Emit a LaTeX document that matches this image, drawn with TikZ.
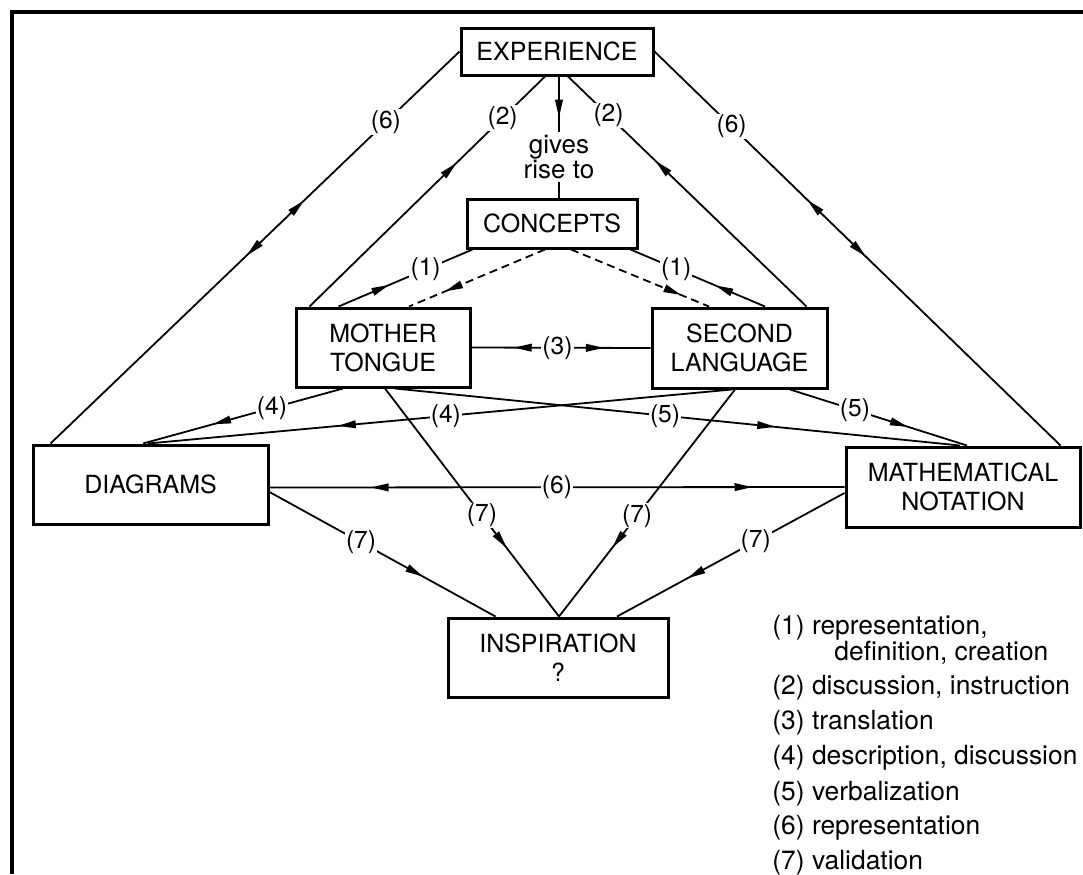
\documentclass[tikz,border=0pt]{standalone}
\usepackage{fontspec}
\setmainfont{TeX Gyre Heros}
\usetikzlibrary{arrows.meta,decorations.markings}
\tikzset{
 box/.style={draw, line width=1.5pt, inner sep=0pt, align=center, font=\fontsize{12.5}{14.5}\selectfont},
 lbl/.style={fill=white, inner sep=0.6pt, font=\fontsize{12.3}{12}\selectfont},
 conn/.style={line width=0.9pt},
 tipA/.tip={Triangle[length=9pt,width=3.8pt]},
 fwd/.style={postaction={decorate,decoration={markings,mark=at position #1 with {\arrow{tipA}}}}},
 bwd/.style={postaction={decorate,decoration={markings,mark=at position #1 with {\arrowreversed{tipA}}}}},
 leg/.style={anchor=base west, inner sep=0pt, font=\fontsize{13.2}{14}\selectfont},
 dsh/.style={dash pattern=on 4pt off 2.5pt},
}
\begin{document}
\begin{tikzpicture}[x=0.5pt,y=-0.5pt]
\useasboundingbox (0,0) rectangle (1083,874);
\draw[line width=2pt] (12,874) -- (12,12) -- (1083,12);

\node[box, minimum width=96pt, minimum height=23.5pt] (exp) at (557,51.5) {EXPERIENCE};
\node[box, minimum width=85pt, minimum height=24.5pt] (con) at (552,223.5) {CONCEPTS};
\node[box, minimum width=87pt, minimum height=39.5pt] (mt) at (383,347.5) {MOTHER\\TONGUE};
\node[box, minimum width=87.5pt, minimum height=40pt] (sl) at (739.5,348) {SECOND\\LANGUAGE};
\node[box, minimum width=117.5pt, minimum height=39.5pt] (dia) at (150.5,484.5) {DIAGRAMS};
\node[box, minimum width=117pt, minimum height=40pt] (mn) at (963,487) {MATHEMATICAL\\NOTATION};
\node[box, minimum width=110pt, minimum height=39.5pt] (ins) at (558,657.5) {INSPIRATION\\?};

% (6) outer
\draw[conn, bwd=0.38, fwd=0.52] (exp.west) -- node[lbl,pos=0.18]{(6)} ([xshift=9.5pt]dia.north west);
\draw[conn, bwd=0.377, fwd=0.52] (exp.east) -- node[lbl,pos=0.19]{(6)} ([xshift=-10.5pt]mn.north east);
% (2)
\draw[conn, fwd=0.624] ([xshift=7.5pt]mt.north west) -- node[lbl,pos=0.82]{(2)} ([xshift=-6pt]exp.south);
\draw[conn, fwd=0.633] ([xshift=-11pt]sl.north east) -- node[lbl,pos=0.83]{(2)} ([xshift=5.5pt]exp.south);
% gives rise to
\draw[conn, fwd=0.34] ([xshift=1pt]exp.south) -- node[fill=white, inner sep=1.5pt, pos=0.665, align=center, font=\fontsize{13}{12.5}\selectfont]{gives\\rise to} ([xshift=3.5pt]con.north);
% (1)
\draw[conn, fwd=0.38] ([xshift=22pt]mt.north west) -- node[lbl,pos=0.65]{(1)} ([xshift=3.5pt]con.south west);
\draw[conn, fwd=0.37] ([xshift=12.75pt]sl.north) -- node[lbl,pos=0.66]{(1)} ([xshift=-4pt]con.south east);
% dashed
\draw[conn, dsh, fwd=0.735] ([xshift=-3.5pt]con.south) -- ([xshift=13pt]mt.north);
\draw[conn, dsh, fwd=0.80] ([xshift=9.5pt]con.south) -- ([xshift=-15.25pt]sl.north);
% (3)
\draw[conn, bwd=0.236, fwd=0.74] (mt.east) -- node[lbl,pos=0.48]{(3)} (sl.west);
% (4)
\draw[conn, fwd=0.65] ([xshift=-20pt]mt.south) -- node[lbl,pos=0.355]{(4)} ([xshift=-3.75pt]dia.north);
\draw[conn, fwd=0.675] ([xshift=-3.75pt]sl.south) -- node[lbl,pos=0.49]{(4)} ([xshift=-1.25pt]dia.north);
% (5)
\draw[conn, fwd=0.673] ([xshift=6pt]mt.south) -- node[lbl,pos=0.478]{(5)} ([xshift=-1.5pt]mn.north);
\draw[conn, fwd=0.667] ([xshift=25.25pt]sl.south) -- node[lbl,pos=0.367]{(5)} ([xshift=2pt]mn.north);
% (6) horizontal
\draw[conn, bwd=0.176, fwd=0.84] ([yshift=-1.5pt]dia.east) -- node[lbl,pos=0.5]{(6)} (mn.west);
% (7)
\draw[conn, fwd=0.68] ([yshift=-3.75pt]dia.east) -- node[lbl,pos=0.405]{(7)} ([xshift=24.5pt]ins.north west);
\draw[conn, fwd=0.70] ([xshift=1pt]mt.south) -- node[lbl,pos=0.557]{(7)} ([xshift=0.5pt]ins.north);
\draw[conn, fwd=0.696] ([xshift=-2.25pt]sl.south) -- node[lbl,pos=0.556]{(7)} ([xshift=0.5pt]ins.north);
\draw[conn, fwd=0.69] ([yshift=-3pt]mn.west) -- node[lbl,pos=0.39]{(7)} ([xshift=29.5pt]ins.north);

% legend
\node[leg] (l1) at (772,634) {(1) representation,};
\node[leg] (l1b) at (834,660) {definition, creation};
\node[leg] (l2) at (772,694) {(2) discussion, instruction};
\node[leg] (l3) at (772,729) {(3) translation};
\node[leg] (l4) at (772,764) {(4) description, discussion};
\node[leg] (l5) at (772,800) {(5) verbalization};
\node[leg] (l6) at (772,834) {(6) representation};
\node[leg] (l7) at (772,869) {(7) validation};
\end{tikzpicture}
\end{document}
